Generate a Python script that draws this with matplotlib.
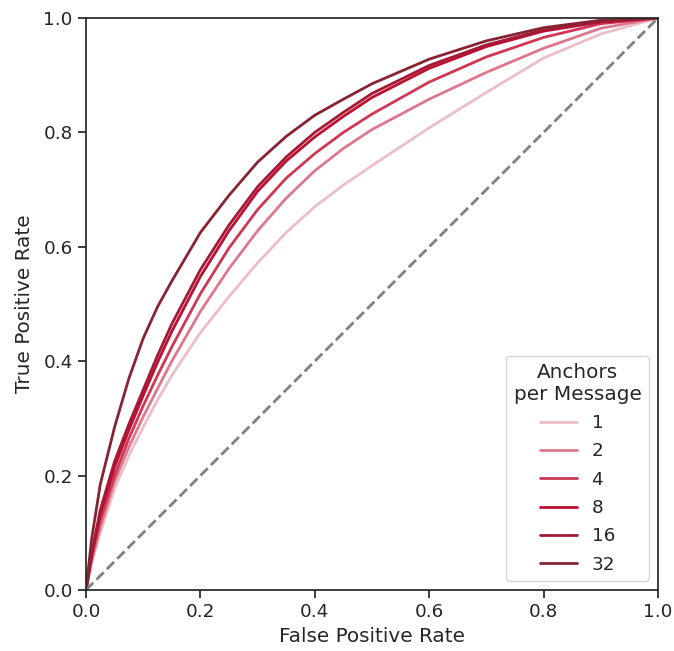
import numpy as np
import matplotlib
matplotlib.use('Agg')
import matplotlib.pyplot as plt
import seaborn as sns

# ROC curves sampled on a shared false-positive-rate grid
anchors = ['1', '2', '4', '8', '16', '32']

fpr = [0, 0.01, 0.025, 0.05, 0.075, 0.1, 0.125, 0.15, 0.2, 0.25, 0.3,
       0.35, 0.4, 0.45, 0.5, 0.6, 0.7, 0.8, 0.9, 1.0]

tpr_1 = [0, 0.048, 0.10, 0.177, 0.235, 0.285, 0.332, 0.375, 0.45, 0.513, 0.572,
         0.625, 0.67, 0.708, 0.742, 0.808, 0.87, 0.93, 0.972, 1.0]
tpr_2 = [0, 0.052, 0.11, 0.19, 0.25, 0.303, 0.352, 0.40, 0.487, 0.562, 0.628,
         0.685, 0.733, 0.772, 0.805, 0.858, 0.905, 0.947, 0.982, 1.0]
tpr_4 = [0, 0.058, 0.122, 0.20, 0.265, 0.322, 0.375, 0.425, 0.518, 0.598, 0.665,
         0.72, 0.763, 0.80, 0.832, 0.888, 0.932, 0.966, 0.99, 1.0]
tpr_8 = [0, 0.062, 0.133, 0.215, 0.28, 0.34, 0.398, 0.452, 0.548, 0.628, 0.697,
         0.75, 0.792, 0.828, 0.861, 0.912, 0.95, 0.977, 0.993, 1.0]
tpr_16 = [0, 0.065, 0.14, 0.225, 0.29, 0.35, 0.41, 0.465, 0.56, 0.638, 0.705,
          0.757, 0.80, 0.835, 0.868, 0.917, 0.953, 0.979, 0.994, 1.0]
tpr_32 = [0, 0.09, 0.185, 0.285, 0.37, 0.44, 0.495, 0.54, 0.625, 0.69, 0.748,
          0.793, 0.83, 0.858, 0.885, 0.928, 0.96, 0.983, 0.996, 1.0]

tprs = [tpr_1, tpr_2, tpr_4, tpr_8, tpr_16, tpr_32]
colors = ['#ecbec8', '#dd788c', '#d03755', '#be0f32', '#a51937', '#872332']

sns.set_theme(style='ticks', context='notebook', font_scale=1.2)

fig = plt.figure(figsize=(6.74, 6.51), dpi=100)
ax = fig.add_axes([0.1276, 0.0937, 0.8487, 0.8787])

for tpr, c, lab in zip(tprs, colors, anchors):
    ax.plot(fpr, tpr, color=c, linewidth=2, label=lab)

# chance line
ax.plot([0, 1], [0, 1], color='gray', linestyle='--', linewidth=2)

ax.set_xlim(0, 1)
ax.set_ylim(0, 1)
ax.set_xlabel('False Positive Rate')
ax.set_ylabel('True Positive Rate', labelpad=7)
leg = ax.legend(title='Anchors\nper Message', loc='lower right',
                title_fontsize=14.4, labelspacing=0.56)
leg.get_title().set_multialignment('center')

fig.savefig('out.png', dpi=100)
